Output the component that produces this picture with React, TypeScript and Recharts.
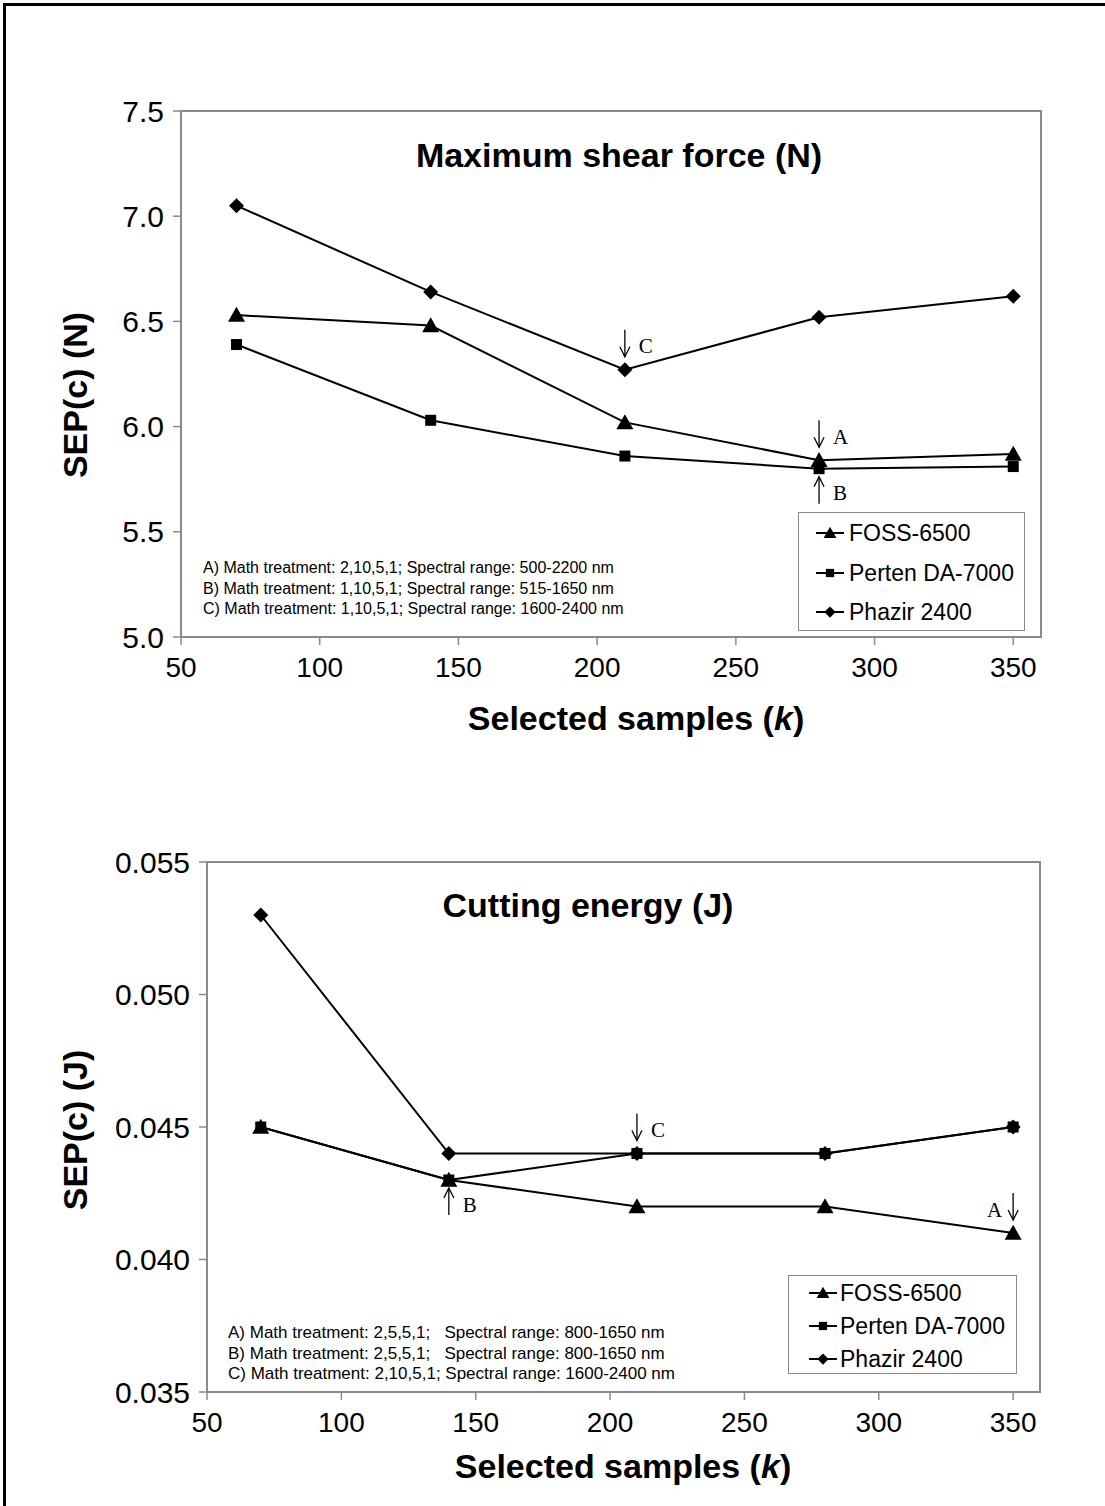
// Two stacked line charts: SEP(c) vs number of selected samples for three NIR instruments.
// Top = maximum shear force (N), bottom = cutting energy (J).

import { LineChart, Line, XAxis, YAxis, Legend, ReferenceDot, ReferenceArea } from 'recharts'

// ── Data ──────────────────────────────────────────────────────────────────────
const samples = [70, 140, 210, 280, 350]
const seriesNames = ['FOSS-6500', 'Perten DA-7000', 'Phazir 2400']

const shearFoss   = [6.53, 6.48, 6.02, 5.84, 5.87]
const shearPerten = [6.39, 6.03, 5.86, 5.80, 5.81]
const shearPhazir = [7.05, 6.64, 6.27, 6.52, 6.62]

const energyFoss   = [0.045, 0.043, 0.042, 0.042, 0.041]
const energyPerten = [0.045, 0.043, 0.044, 0.044, 0.045]
const energyPhazir = [0.053, 0.044, 0.044, 0.044, 0.045]

const xTicks      = [50, 100, 150, 200, 250, 300, 350]
const shearTicks  = [5.0, 5.5, 6.0, 6.5, 7.0, 7.5]
const energyTicks = [0.035, 0.040, 0.045, 0.050, 0.055]

const shearNotes = [
  'A) Math treatment: 2,10,5,1; Spectral range: 500-2200 nm',
  'B) Math treatment: 1,10,5,1; Spectral range: 515-1650 nm',
  'C) Math treatment: 1,10,5,1; Spectral range: 1600-2400 nm',
]
const energyNotes = [
  'A) Math treatment: 2,5,5,1;   Spectral range: 800-1650 nm',
  'B) Math treatment: 2,5,5,1;   Spectral range: 800-1650 nm',
  'C) Math treatment: 2,10,5,1; Spectral range: 1600-2400 nm',
]

// arrows pointing at the best model of each instrument
const shearMarks = [
  { k: samples[2], value: shearPhazir[2], letter: 'C', dir: 'down', side: 'right' },
  { k: samples[3], value: shearFoss[3],   letter: 'A', dir: 'down', side: 'right' },
  { k: samples[3], value: shearPerten[3], letter: 'B', dir: 'up',   side: 'right' },
]
const energyMarks = [
  { k: samples[2], value: energyPhazir[2], letter: 'C', dir: 'down', side: 'right' },
  { k: samples[1], value: energyPerten[1], letter: 'B', dir: 'up',   side: 'right' },
  { k: samples[4], value: energyFoss[4],   letter: 'A', dir: 'down', side: 'left' },
]

// ── Styles ────────────────────────────────────────────────────────────────────
const SANS  = 'Arial, "Liberation Sans", sans-serif'
const SERIF = '"Times New Roman", "Liberation Serif", serif'
const GRAY  = '#8a8a8a'
const shapes = ['triangle', 'square', 'diamond']

// ── Marker shapes ─────────────────────────────────────────────────────────────
function Marker({ cx, cy, shape, s = 1 }: any) {
  if (cx == null || cy == null) return <g />
  if (shape === 'triangle') {
    const w = 17 * s, h = 15 * s
    return <path d={`M${cx},${cy - h * 0.55} L${cx + w / 2},${cy + h * 0.45} L${cx - w / 2},${cy + h * 0.45} Z`} fill="#000" />
  }
  if (shape === 'square') {
    const a = 11 * s
    return <rect x={cx - a / 2} y={cy - a / 2} width={a} height={a} fill="#000" />
  }
  const r = 7.5 * s
  return <path d={`M${cx},${cy - r} L${cx + r},${cy} L${cx},${cy + r} L${cx - r},${cy} Z`} fill="#000" />
}

// ── Arrow + letter annotation ─────────────────────────────────────────────────
function ArrowMark({ cx, cy, letter, dir, side }: any) {
  const len = 27
  const tip  = dir === 'down' ? cy - 13 : cy + 8
  const tail = dir === 'down' ? tip - len : tip + len
  const d = dir === 'down' ? -10 : 10
  const mid = (tip + tail) / 2
  return (
    <g>
      <line x1={cx} y1={tail} x2={cx} y2={tip} stroke="#000" strokeWidth={1.3} />
      <path d={`M${cx - 5},${tip + d} L${cx},${tip} L${cx + 5},${tip + d}`} fill="none" stroke="#000" strokeWidth={1.3} />
      <text
        x={side === 'right' ? cx + 14 : cx - 11}
        y={mid + 10}
        textAnchor={side === 'right' ? 'start' : 'end'}
        fontFamily={SERIF}
        fontSize={21}
        fill="#000"
      >
        {letter}
      </text>
    </g>
  )
}

// ── Legend box ────────────────────────────────────────────────────────────────
function LegendBox({ payload, rowH, firstPad, symLeft, textLeft }: any) {
  return (
    <div style={{
      width: '100%', height: '100%', boxSizing: 'border-box',
      border: `1.5px solid ${GRAY}`, background: '#fff', position: 'relative',
      fontFamily: SANS, fontSize: 23, color: '#000',
    }}>
      {(payload || []).map((entry: any, i: number) => {
        const cy = firstPad + i * rowH
        return (
          <div key={entry.value} style={{ position: 'absolute', left: 0, top: cy - 15, height: 30, width: '100%' }}>
            <svg width={textLeft} height={30} style={{ position: 'absolute', left: 0, top: 0 }}>
              <line x1={symLeft} y1={15} x2={symLeft + 28} y2={15} stroke="#000" strokeWidth={2} />
              <Marker cx={symLeft + 14} cy={15} shape={shapes[seriesNames.indexOf(entry.value)]} s={0.75} />
            </svg>
            <span style={{ position: 'absolute', left: textLeft, top: 15, transform: 'translateY(-50%)', whiteSpace: 'nowrap', lineHeight: 1 }}>
              {entry.value}
            </span>
          </div>
        )
      })}
    </div>
  )
}

// ── One panel ─────────────────────────────────────────────────────────────────
function Panel({ top, height, margin, yWidth, xHeight, domain, yTicks, yFmt, series, marks, title, titlePos,
  notes, notesPos, notesFont, legendBox, legendRows, yLabel, yLabelShift, xLabelPos }: any) {
  const rows = samples.map((k, i) => ({ k, foss: series[0][i], perten: series[1][i], phazir: series[2][i] }))
  const keys = ['foss', 'perten', 'phazir']

  return (
    <div style={{ position: 'absolute', left: 0, top, width: 1105, height }}>
      <LineChart width={1105} height={height} data={rows} margin={margin}>
        <ReferenceArea x1={50} x2={360} y1={domain[0]} y2={domain[1]} fill="none" stroke={GRAY} strokeWidth={2} />
        <XAxis
          dataKey="k" type="number" domain={[50, 360]} ticks={xTicks} interval={0}
          height={xHeight} tickSize={8} tickMargin={12}
          axisLine={{ stroke: GRAY, strokeWidth: 2 }} tickLine={{ stroke: GRAY, strokeWidth: 1.5 }}
          tick={{ fontFamily: SANS, fontSize: 28, fill: '#000' }}
          label={(p: any) => {
            const vb = p.viewBox
            return (
              <text x={vb.x + xLabelPos[0]} y={vb.y + xLabelPos[1]} textAnchor="middle" fontFamily={SANS} fontSize={34} fontWeight="bold" fill="#000">
                <tspan>Selected samples (</tspan><tspan fontStyle="italic">k</tspan><tspan>)</tspan>
              </text>
            )
          }}
        />
        <YAxis
          type="number" domain={domain} ticks={yTicks} interval={0} allowDataOverflow
          width={yWidth} tickSize={8} tickMargin={9} tickFormatter={yFmt}
          axisLine={{ stroke: GRAY, strokeWidth: 2 }} tickLine={{ stroke: GRAY, strokeWidth: 1.5 }}
          tick={{ fontFamily: SANS, fontSize: 30, fill: '#000' }}
          label={(p: any) => {
            const vb = p.viewBox
            const x = 75
            const y = vb.y + vb.height / 2 + yLabelShift
            return (
              <text x={x} y={y} transform={`rotate(-90, ${x}, ${y})`} textAnchor="middle" dominantBaseline="central"
                fontFamily={SANS} fontSize={34} fontWeight="bold" fill="#000">
                {yLabel}
              </text>
            )
          }}
        />
        <Legend
          layout="vertical" align="center" verticalAlign="middle"
          wrapperStyle={{ left: legendBox[0], top: legendBox[1], width: legendBox[2], height: legendBox[3] }}
          content={(p: any) => <LegendBox payload={p.payload} {...legendRows} />}
        />
        {keys.map((key, i) => (
          <Line
            key={key} dataKey={key} name={seriesNames[i]} stroke="#000" strokeWidth={2}
            isAnimationActive={false} legendType="line"
            dot={(d: any) => <Marker key={`${key}-${d.index}`} cx={d.cx} cy={d.cy} shape={shapes[i]} />}
            activeDot={false}
          />
        ))}
        {marks.map((m: any) => (
          <ReferenceDot
            key={m.letter} x={m.k} y={m.value} r={0}
            shape={(p: any) => <ArrowMark cx={p.cx} cy={p.cy} letter={m.letter} dir={m.dir} side={m.side} />}
          />
        ))}
      </LineChart>

      {/* chart title */}
      <div style={{
        position: 'absolute', left: titlePos[0], top: titlePos[1], transform: 'translate(-50%, -50%)',
        fontFamily: SANS, fontSize: 34, fontWeight: 'bold', whiteSpace: 'nowrap', lineHeight: 1,
      }}>
        {title}
      </div>

      {/* model notes */}
      <div style={{
        position: 'absolute', left: notesPos[0], top: notesPos[1],
        fontFamily: SANS, fontSize: notesFont, lineHeight: '20.5px', whiteSpace: 'pre', color: '#000',
      }}>
        {notes.map((n: string) => <div key={n}>{n}</div>)}
      </div>
    </div>
  )
}

// ─────────────────────────────────────────────────────────────────────────────
export default function App() {
  return (
    <div style={{ position: 'absolute', left: 0, top: 0, width: 1105, height: 1506, background: '#fff', overflow: 'hidden' }}>
      {/* frame of the original figure (only top and left edges are visible) */}
      <div style={{ position: 'absolute', left: 3, top: 3, width: 1200, height: 1600, borderTop: '3px solid #000', borderLeft: '3px solid #000' }} />

      <Panel
        top={0} height={760}
        margin={{ top: 111, right: 64, bottom: 0, left: 0 }} yWidth={181} xHeight={123}
        domain={[5, 7.5]} yTicks={shearTicks} yFmt={(v: number) => v.toFixed(1)}
        series={[shearFoss, shearPerten, shearPhazir]} marks={shearMarks}
        title="Maximum shear force (N)" titlePos={[619, 155]}
        notes={shearNotes} notesPos={[203, 558]} notesFont={16}
        legendBox={[798, 512, 227, 119]} legendRows={{ rowH: 39.5, firstPad: 20, symLeft: 17, textLeft: 50 }}
        yLabel="SEP(c) (N)" yLabelShift={21} xLabelPos={[455, 93]}
      />

      <Panel
        top={760} height={746}
        margin={{ top: 102, right: 65, bottom: 0, left: 0 }} yWidth={207} xHeight={114}
        domain={[0.035, 0.055]} yTicks={energyTicks} yFmt={(v: number) => v.toFixed(3)}
        series={[energyFoss, energyPerten, energyPhazir]} marks={energyMarks}
        title="Cutting energy (J)" titlePos={[588, 145]}
        notes={energyNotes} notesPos={[228, 563]} notesFont={17}
        legendBox={[788, 515, 229, 99]} legendRows={{ rowH: 33, firstPad: 16.5, symLeft: 20, textLeft: 51 }}
        yLabel="SEP(c) (J)" yLabelShift={3} xLabelPos={[416, 86]}
      />
    </div>
  )
}
